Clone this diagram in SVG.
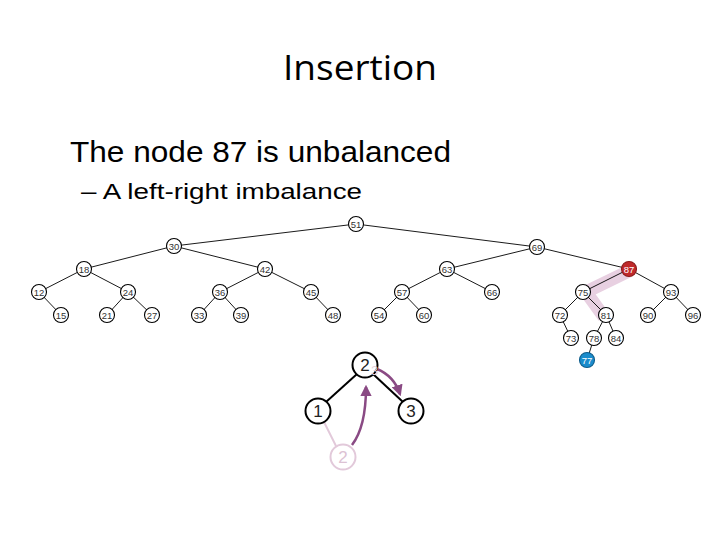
<svg xmlns="http://www.w3.org/2000/svg" width="720" height="540" viewBox="0 0 720 540">
<defs>
<style>
.t{font-family:"Liberation Sans",Arial,sans-serif;fill:#000}
.n circle{fill:#fff;stroke:#000;stroke-width:1.1}
.n text{font-family:"Liberation Sans",Arial,sans-serif;font-size:9.5px;fill:#333;text-anchor:middle}
.e line{stroke:#000;stroke-width:0.9}
.b circle{fill:#fff;stroke:#000;stroke-width:2}
.b text{font-family:"Liberation Sans",Arial,sans-serif;font-size:17px;fill:#222;text-anchor:middle}
</style>
<marker id="ah" viewBox="0 0 10 10" refX="8" refY="5" markerWidth="4.5" markerHeight="4.5" orient="auto" markerUnits="strokeWidth">
<path d="M0,0 L10,5 L0,10 z" fill="#8a4a84"/>
</marker>
</defs>
<rect width="720" height="540" fill="#fff"/>
<text x="360" y="80" text-anchor="middle" font-family="'Open Sans',sans-serif" font-size="35" textLength="154" lengthAdjust="spacingAndGlyphs">Insertion</text>
<text class="t" x="70" y="162" font-size="29" textLength="381" lengthAdjust="spacingAndGlyphs">The node 87 is unbalanced</text>
<text class="t" x="81" y="199" font-size="22" textLength="281" lengthAdjust="spacingAndGlyphs">– A left-right imbalance</text>

<polyline points="629,271 586,292 604,317" fill="none" stroke="#e8d0e1" stroke-width="13" stroke-linejoin="miter" stroke-linecap="butt"/>

<g id="connectors" class="e">
<line x1="356" y1="224" x2="174" y2="246"/>
<line x1="356" y1="224" x2="537" y2="247"/>
<line x1="174" y1="246" x2="84" y2="269"/>
<line x1="174" y1="246" x2="265" y2="269"/>
<line x1="84" y1="269" x2="39" y2="292"/>
<line x1="84" y1="269" x2="128" y2="292"/>
<line x1="39" y1="292" x2="61" y2="315"/>
<line x1="128" y1="292" x2="107" y2="315"/>
<line x1="128" y1="292" x2="152" y2="315"/>
<line x1="265" y1="269" x2="220" y2="292"/>
<line x1="265" y1="269" x2="311" y2="292"/>
<line x1="220" y1="292" x2="199" y2="315"/>
<line x1="220" y1="292" x2="241" y2="315"/>
<line x1="311" y1="292" x2="333" y2="315"/>
<line x1="537" y1="247" x2="447" y2="269"/>
<line x1="537" y1="247" x2="629" y2="269"/>
<line x1="447" y1="269" x2="402" y2="292"/>
<line x1="447" y1="269" x2="492" y2="292"/>
<line x1="402" y1="292" x2="379" y2="315"/>
<line x1="402" y1="292" x2="424" y2="315"/>
<line x1="629" y1="269" x2="583" y2="292"/>
<line x1="629" y1="269" x2="671" y2="292"/>
<line x1="583" y1="292" x2="560" y2="315"/>
<line x1="583" y1="292" x2="606" y2="315"/>
<line x1="560" y1="315" x2="571" y2="338"/>
<line x1="606" y1="315" x2="594" y2="338"/>
<line x1="606" y1="315" x2="616" y2="338"/>
<line x1="594" y1="338" x2="587" y2="360"/>
<line x1="671" y1="292" x2="648" y2="315"/>
<line x1="671" y1="292" x2="693" y2="315"/>
</g>

<g id="n51" class="n"><circle cx="356" cy="224" r="7.5"/><text x="356" y="227.5">51</text></g>
<g id="n30" class="n"><circle cx="174" cy="246" r="7.5"/><text x="174" y="249.5">30</text></g>
<g id="n69" class="n"><circle cx="537" cy="247" r="7.5"/><text x="537" y="250.5">69</text></g>
<g id="n18" class="n"><circle cx="84" cy="269" r="7.5"/><text x="84" y="272.5">18</text></g>
<g id="n42" class="n"><circle cx="265" cy="269" r="7.5"/><text x="265" y="272.5">42</text></g>
<g id="n63" class="n"><circle cx="447" cy="269" r="7.5"/><text x="447" y="272.5">63</text></g>
<g id="n87" class="n"><circle cx="629" cy="269" r="7.5" style="fill:#c0292b;stroke:#8a1a1a"/><text x="629" y="272.5" style="fill:#fff">87</text></g>
<g id="n12" class="n"><circle cx="39" cy="292" r="7.5"/><text x="39" y="295.5">12</text></g>
<g id="n24" class="n"><circle cx="128" cy="292" r="7.5"/><text x="128" y="295.5">24</text></g>
<g id="n36" class="n"><circle cx="220" cy="292" r="7.5"/><text x="220" y="295.5">36</text></g>
<g id="n45" class="n"><circle cx="311" cy="292" r="7.5"/><text x="311" y="295.5">45</text></g>
<g id="n57" class="n"><circle cx="402" cy="292" r="7.5"/><text x="402" y="295.5">57</text></g>
<g id="n66" class="n"><circle cx="492" cy="292" r="7.5"/><text x="492" y="295.5">66</text></g>
<g id="n75" class="n"><circle cx="583" cy="292" r="7.5"/><text x="583" y="295.5">75</text></g>
<g id="n93" class="n"><circle cx="671" cy="292" r="7.5"/><text x="671" y="295.5">93</text></g>
<g id="n15" class="n"><circle cx="61" cy="315" r="7.5"/><text x="61" y="318.5">15</text></g>
<g id="n21" class="n"><circle cx="107" cy="315" r="7.5"/><text x="107" y="318.5">21</text></g>
<g id="n27" class="n"><circle cx="152" cy="315" r="7.5"/><text x="152" y="318.5">27</text></g>
<g id="n33" class="n"><circle cx="199" cy="315" r="7.5"/><text x="199" y="318.5">33</text></g>
<g id="n39" class="n"><circle cx="241" cy="315" r="7.5"/><text x="241" y="318.5">39</text></g>
<g id="n48" class="n"><circle cx="333" cy="315" r="7.5"/><text x="333" y="318.5">48</text></g>
<g id="n54" class="n"><circle cx="379" cy="315" r="7.5"/><text x="379" y="318.5">54</text></g>
<g id="n60" class="n"><circle cx="424" cy="315" r="7.5"/><text x="424" y="318.5">60</text></g>
<g id="n72" class="n"><circle cx="560" cy="315" r="7.5"/><text x="560" y="318.5">72</text></g>
<g id="n81" class="n"><circle cx="606" cy="315" r="7.5"/><text x="606" y="318.5">81</text></g>
<g id="n90" class="n"><circle cx="648" cy="315" r="7.5"/><text x="648" y="318.5">90</text></g>
<g id="n96" class="n"><circle cx="693" cy="315" r="7.5"/><text x="693" y="318.5">96</text></g>
<g id="n73" class="n"><circle cx="571" cy="338" r="7.5"/><text x="571" y="341.5">73</text></g>
<g id="n78" class="n"><circle cx="594" cy="338" r="7.5"/><text x="594" y="341.5">78</text></g>
<g id="n84" class="n"><circle cx="616" cy="338" r="7.5"/><text x="616" y="341.5">84</text></g>
<g id="n77" class="n"><circle cx="587" cy="360" r="7.5" style="fill:#1a8ccc;stroke:#0d5c8a"/><text x="587" y="363.5" style="fill:#fff">77</text></g>

<g id="small-connectors">
<line x1="357" y1="374" x2="326" y2="402" stroke="#000" stroke-width="2"/>
<line x1="373" y1="374" x2="403" y2="402" stroke="#000" stroke-width="2"/>
<line x1="324" y1="422" x2="336" y2="446" stroke="#e2c9da" stroke-width="2"/>
<path d="M352,445 C362,432 366,412 366,387" fill="none" stroke="#8a4a84" stroke-width="2.5" marker-end="url(#ah)"/>
<path d="M377,369 Q394,376 400,394" fill="none" stroke="#8a4a84" stroke-width="2.5" marker-end="url(#ah)"/>
</g>
<g id="b2" class="b"><circle cx="365" cy="365" r="12.5"/><text x="365" y="371">2</text></g>
<text x="371" y="375" font-family="'Liberation Sans',Arial,sans-serif" font-size="13" fill="#e4d0dc">3</text>
<g id="b1" class="b"><circle cx="318" cy="411" r="12.5"/><text x="318" y="417">1</text></g>
<g id="b3" class="b"><circle cx="411" cy="411" r="12.5"/><text x="411" y="417">3</text></g>
<g id="b2ghost" class="b"><circle cx="343" cy="457" r="12.5" style="stroke:#e2c9da"/><text x="343" y="463" style="fill:#dcc2d4">2</text></g>
</svg>
